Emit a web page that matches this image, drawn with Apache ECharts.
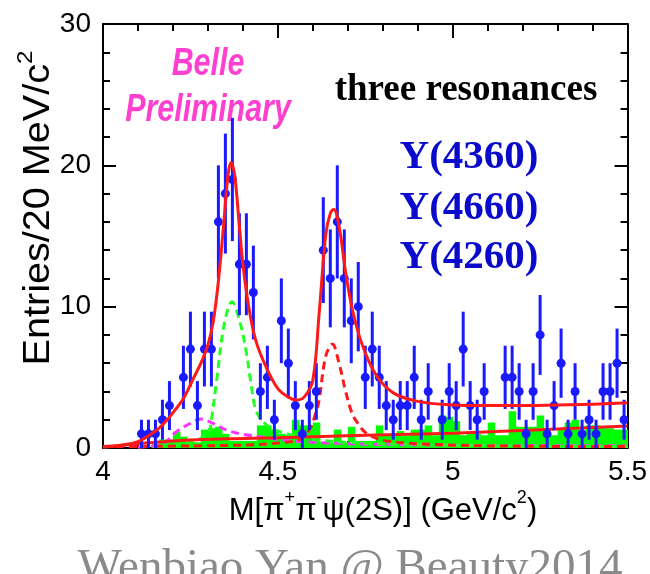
<!DOCTYPE html>
<html>
<head>
<meta charset="utf-8">
<script src="https://cdn.jsdelivr.net/npm/echarts@6/dist/echarts.min.js"></script>
<style>
html, body { margin: 0; padding: 0; background: #fff; }
#main { width: 650px; height: 574px; }
</style>
</head>
<body>
<div id="main"></div>
<script>
// 20 MeV bins from 4.0 to 5.5 GeV
var binStart = 4.0;
var binWidth = 0.02;

// entries per bin, null = empty bin
var counts = [
    null, null, null, null, null, 1, 1, 1, 2, 3,
    null, 5, 7, 3, 7, 7, 16, 18, 19, 13,
    13, 11, 4, 5, 2, 9, 6, 3, 1, 3,
    4, 14, 12, 16, 12, 9, 10, 5, 7, 5,
    3, 2, 3, 3, 5, 2, 4, null, 2, 4,
    3, 7, 3, 2, 4, null, null, 5, 5, 4,
    1, 4, 8, 1, 3, 6, 1, 4, 1, 2,
    1, 4, 4, 6, 2
];

// sideband background (green histogram)
var sideband = [
    0, 0, 0, 0, 0, 0, 0, 0.3, 0.6, 0.6,
    1.15, 0.8, 0.4, 0.4, 1.3, 1.4, 1.5, 1.0, 0.5, 0.5,
    0.5, 0.5, 1.6, 1.6, 1.3, 1.0, 0.9, 2.0, 1.6, 1.6,
    1.8, 0.4, 0.4, 1.3, 0.4, 1.5, 0.5, 0.5, 0.5, 1.6,
    0.9, 0.9, 1.2, 0.9, 1.3, 1.3, 1.6, 0.9, 2.3, 2.2,
    1.9, 0.9, 1.0, 1.0, 0.9, 1.8, 0.9, 0.9, 2.6, 1.5,
    1.5, 1.5, 2.3, 0.9, 0.9, 1.3, 1.8, 2.0, 1.2, 1.6,
    1.6, 1.4, 1.4, 1.3, 1.3
];

// fit curves, points
var totalFitX = [4.0, 4.05, 4.1, 4.15, 4.18, 4.2, 4.23, 4.26, 4.28, 4.3,
    4.315, 4.33, 4.345, 4.357, 4.366, 4.376, 4.39, 4.4, 4.418, 4.437,
    4.466, 4.5, 4.53, 4.552, 4.575, 4.6, 4.618, 4.637, 4.65, 4.66,
    4.675, 4.694, 4.713, 4.74, 4.78, 4.83, 4.9, 5.0, 5.1, 5.2,
    5.3, 5.4, 5.5];
var totalFitY = [0.1, 0.2, 0.45, 1.2, 1.9, 2.5, 3.5, 5.0, 6.0, 7.3,
    8.9, 11.8, 15.8, 19.2, 20.2, 19.4, 15.7, 13.0, 9.8, 7.6,
    5.75, 4.2, 3.6, 3.4, 3.6, 4.8, 9.5, 15.1, 16.6, 16.9,
    15.7, 12.4, 9.8, 7.4, 5.2, 3.9, 3.3, 3.05, 3.0, 3.0,
    3.05, 3.1, 3.2];

var bkgX = [4.0, 4.1, 4.2, 4.35, 4.5, 4.75, 5.0, 5.25, 5.5];
var bkgY = [0.05, 0.3, 0.5, 0.65, 0.72, 0.9, 1.05, 1.3, 1.55];

var y4260X = [4.1, 4.17, 4.21, 4.25, 4.28, 4.31, 4.35, 4.4, 4.47, 4.5, 4.57, 4.67, 4.78, 5.0, 5.25, 5.5];
var y4260Y = [0.05, 0.3, 1.15, 1.75, 2.05, 1.8, 1.3, 0.97, 0.73, 0.6, 0.45, 0.33, 0.26, 0.2, 0.17, 0.15];

var y4360X = [4.2, 4.26, 4.3, 4.31, 4.324, 4.347, 4.369, 4.39, 4.409, 4.423, 4.437, 4.46, 4.49, 4.54, 4.6, 4.75, 5.0, 5.5];
var y4360Y = [0.2, 0.5, 1.0, 2.0, 4.6, 8.8, 10.35, 9.06, 6.9, 4.6, 2.7, 1.8, 1.3, 0.9, 0.6, 0.35, 0.2, 0.1];

var y4660X = [4.0, 4.4, 4.5, 4.56, 4.59, 4.61, 4.618, 4.637, 4.656, 4.675, 4.694, 4.713, 4.73, 4.75, 4.78, 4.81, 4.9, 5.1, 5.5];
var y4660Y = [0.1, 0.2, 0.35, 0.6, 1.3, 2.6, 3.4, 6.5, 7.35, 6.0, 4.0, 2.4, 1.7, 1.1, 0.7, 0.5, 0.3, 0.15, 0.1];

var resonances = ['Y(4360)', 'Y(4660)', 'Y(4260)'];

function pairs(xs, ys) {
    return xs.map(function (x, i) { return [x, ys[i]]; });
}

var histData = sideband.map(function (v, i) {
    return [binStart + (i + 0.5) * binWidth, v];
});
var pointData = [];
counts.forEach(function (n, i) {
    if (n !== null)
        pointData.push([binStart + (i + 0.5) * binWidth, n]);
});

var myChart = echarts.init(document.getElementById('main'));

var tickFont = { fontSize: 28, color: '#000', fontFamily: 'Liberation Sans' };

function frameAxis(pos, showLabel, isX) {
    return {
        type: 'value',
        position: pos,
        min: isX ? 4 : 0,
        max: isX ? 5.5 : 30,
        interval: isX ? 0.5 : 10,
        axisLine: { show: true, onZero: false, lineStyle: { color: '#000', width: 2 } },
        axisTick: { show: true, inside: true, length: isX ? 14 : 13, lineStyle: { color: '#000', width: 2 } },
        minorTick: { show: true, splitNumber: 5, length: 7, lineStyle: { color: '#000', width: 2 } },
        axisLabel: Object.assign({ show: showLabel, margin: isX ? 10 : 12 }, tickFont),
        splitLine: { show: false }
    };
}

function curve(data, color, dashed, z) {
    return {
        type: 'line',
        data: data,
        showSymbol: false,
        smooth: 0.35,
        z: z,
        lineStyle: { color: color, width: 3, type: dashed ? [8, 5] : 'solid' },
        silent: true
    };
}

// rich styles: main text sits at the bottom of the line, superscripts at the top
function supRich(size, supSize) {
    return {
        m: { fontSize: size, fontFamily: 'Liberation Sans', lineHeight: size + 6, verticalAlign: 'bottom', fill: '#000' },
        s: { fontSize: supSize, fontFamily: 'Liberation Sans', lineHeight: supSize + 2, verticalAlign: 'top', fill: '#000' }
    };
}

var option = {
    animation: false,
    grid: { left: 103, right: 20, top: 24, bottom: 126 },
    xAxis: [frameAxis('bottom', true, true), frameAxis('top', false, true)],
    yAxis: [frameAxis('left', true, false), frameAxis('right', false, false)],
    series: [
        {
            type: 'custom',
            z: 1,
            clip: true,
            data: histData,
            renderItem: function (params, api) {
                var c = api.value(0);
                var p0 = api.coord([c - binWidth / 2, 0]);
                var p1 = api.coord([c + binWidth / 2, api.value(1)]);
                return {
                    type: 'rect',
                    shape: { x: p0[0], y: p1[1], width: p1[0] - p0[0] + 0.5, height: p0[1] - p1[1] },
                    style: { fill: '#00ff00' }
                };
            }
        },
        curve(pairs(y4260X, y4260Y), '#ff33ff', true, 2),
        curve(pairs(y4360X, y4360Y), '#22ff22', true, 2),
        curve(pairs(y4660X, y4660Y), '#ff1a1a', true, 2),
        curve(pairs(bkgX, bkgY), '#ff1a1a', false, 3),
        {
            type: 'custom',
            z: 4,
            clip: true,
            data: pointData,
            renderItem: function (params, api) {
                var x = api.value(0);
                var n = api.value(1);
                var err = Math.sqrt(n);   // Poisson error
                var top = api.coord([x, n + err]);
                var bot = api.coord([x, n - err]);
                var c = api.coord([x, n]);
                return {
                    type: 'group',
                    children: [
                        { type: 'line', shape: { x1: c[0], y1: top[1], x2: c[0], y2: bot[1] },
                          style: { stroke: '#1a1aff', lineWidth: 3 } },
                        { type: 'circle', shape: { cx: c[0], cy: c[1], r: 4.5 },
                          style: { fill: '#1a1aff' } }
                    ]
                };
            }
        },
        curve(pairs(totalFitX, totalFitY), '#ff1a1a', false, 5)
    ],
    graphic: [
        { type: 'text', x: 208, y: 64, scaleX: 0.78,
          style: { text: 'Belle', font: 'italic bold 39px "Liberation Sans"', fill: '#ff3fcf', align: 'center', verticalAlign: 'middle' } },
        { type: 'text', x: 208, y: 110, scaleX: 0.78,
          style: { text: 'Preliminary', font: 'italic bold 39px "Liberation Sans"', fill: '#ff3fcf', align: 'center', verticalAlign: 'middle' } },
        { type: 'text', x: 466, y: 90,
          style: { text: 'three resonances', font: 'bold 37px "Liberation Serif"', fill: '#000', align: 'center', verticalAlign: 'middle' } },
        { type: 'text', x: 469, y: 157,
          style: { text: resonances[0], font: 'bold 41px "Liberation Serif"', fill: '#0a0acc', align: 'center', verticalAlign: 'middle' } },
        { type: 'text', x: 469, y: 208,
          style: { text: resonances[1], font: 'bold 41px "Liberation Serif"', fill: '#0a0acc', align: 'center', verticalAlign: 'middle' } },
        { type: 'text', x: 469, y: 257,
          style: { text: resonances[2], font: 'bold 41px "Liberation Serif"', fill: '#0a0acc', align: 'center', verticalAlign: 'middle' } },
        { type: 'text', x: 383, y: 508,
          style: {
              text: '{m|M[\u03c0}{s|+}{m|\u03c0}{s|-}{m|\u03c8(2S)] (GeV/c}{s|2}{m|)}',
              align: 'center', verticalAlign: 'middle',
              rich: supRich(31, 18)
          } },
        { type: 'text', x: 36, y: 208, rotation: Math.PI / 2, scaleX: 1.1,
          style: {
              text: '{m|Entries/20 MeV/c}{s|2}',
              align: 'center', verticalAlign: 'middle',
              rich: supRich(36, 22)
          } },
        { type: 'text', x: 350, y: 569,
          style: { text: 'Wenbiao Yan @ Beauty2014', font: '47px "Liberation Serif"', fill: '#8a8a8a', align: 'center', verticalAlign: 'middle' } }
    ]
};

myChart.setOption(option);
</script>
</body>
</html>
